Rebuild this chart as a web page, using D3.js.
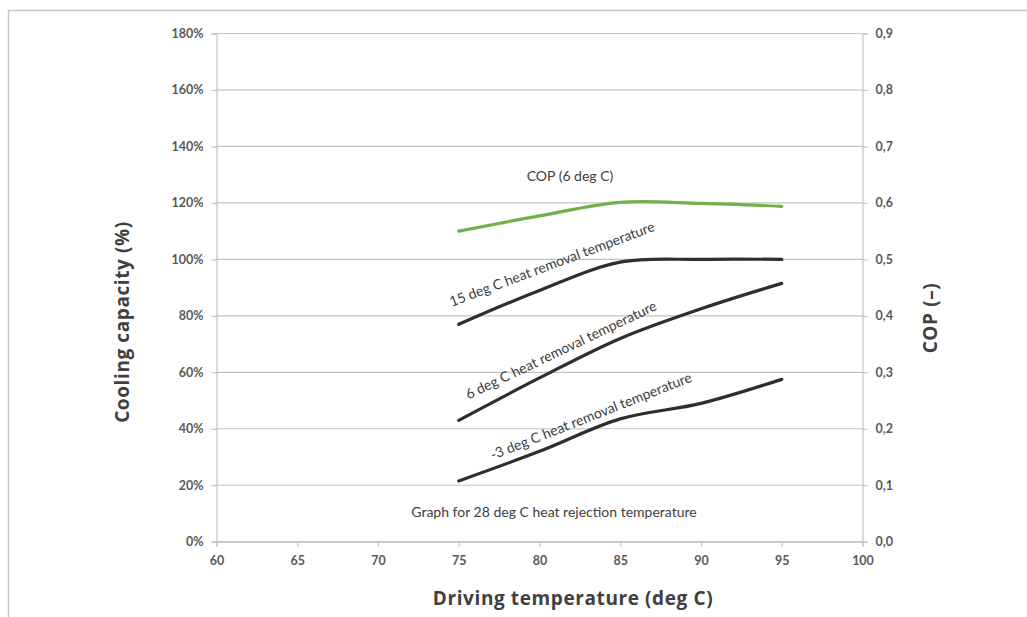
<!DOCTYPE html>
<html>
<head>
<meta charset="utf-8">
<script src="https://cdn.jsdelivr.net/npm/d3@7"></script>
<style>
  html, body { margin: 0; padding: 0; background: #ffffff; }
  svg { display: block; }
</style>
</head>
<body>
<svg id="chart" width="1027" height="617"></svg>
<script>
// ---- data ----
const drivingTemps = [75, 80, 85, 90, 95];
const cap15 = [77, 89, 99, 100, 100];
const cap6 = [43, 58, 72, 82.5, 91.5];
const capMinus3 = [21.5, 32, 43.5, 49, 57.5];
const cop6 = [0.55, 0.577, 0.601, 0.599, 0.594];
const xTicks = [60, 65, 70, 75, 80, 85, 90, 95, 100];
const yLeftTicks = [0, 20, 40, 60, 80, 100, 120, 140, 160, 180];
const yRightTicks = [0, 0.1, 0.2, 0.3, 0.4, 0.5, 0.6, 0.7, 0.8, 0.9];
const seriesLabels = [
  "15 deg C heat removal temperature",
  "6 deg C heat removal temperature",
  "-3 deg C heat removal temperature"
];
const copLabel = "COP (6 deg C)";
const noteLabel = "Graph for 28 deg C heat rejection temperature";

// ---- layout ----
const svg = d3.select("#chart");
const L = 216.5, R = 862.5, T = 33.5, B = 541.7;
const x = d3.scaleLinear().domain([60, 100]).range([L, R]);
const yL = d3.scaleLinear().domain([0, 180]).range([B, T]);
const yR = d3.scaleLinear().domain([0, 0.9]).range([B, T]);

const gridColor = "#c4c4c4";
const tickText = "#595959";
const calibri = "Lato, 'Liberation Sans', sans-serif";
const segoe = "'Open Sans', 'Noto Sans', sans-serif";

// outer frame
svg.append("path")
  .attr("d", `M8.5,617 L8.5,10.5 L1027,10.5`)
  .attr("fill", "none").attr("stroke", "#c6c6c6").attr("stroke-width", 1.5);

// gridlines
svg.append("g").selectAll("line").data(yLeftTicks).join("line")
  .attr("x1", L).attr("x2", R)
  .attr("y1", d => yL(d)).attr("y2", d => yL(d))
  .attr("stroke", gridColor).attr("stroke-width", 1.2);

// left axis
const axL = d3.axisLeft(yL).tickValues(yLeftTicks).tickFormat(d => d + "%").tickSize(5).tickPadding(8);
const gL = svg.append("g").attr("transform", `translate(${L},0)`).call(axL);
// right axis
const axR = d3.axisRight(yR).tickValues(yRightTicks).tickFormat(d => d3.format(".1f")(d).replace(".", ",")).tickSize(5).tickPadding(8);
const gR = svg.append("g").attr("transform", `translate(${R},0)`).call(axR);
// bottom axis
const axB = d3.axisBottom(x).tickValues(xTicks).tickSize(5).tickPadding(9);
const gB = svg.append("g").attr("transform", `translate(0,${B})`).call(axB);

[gL, gR, gB].forEach(g => {
  g.select(".domain").attr("stroke", gridColor).attr("stroke-width", 1.2);
  g.selectAll(".tick line").attr("stroke", gridColor).attr("stroke-width", 1.2);
  g.selectAll(".tick text")
    .attr("fill", tickText)
    .style("font-family", calibri)
    .style("font-size", "12.5px")
    .style("font-weight", "bold");
});

// lines
const lineL = d3.line().x((d, i) => x(drivingTemps[i])).y(d => yL(d)).curve(d3.curveCatmullRom.alpha(0.5));
const lineR = d3.line().x((d, i) => x(drivingTemps[i])).y(d => yR(d)).curve(d3.curveCatmullRom.alpha(0.5));

[cap15, cap6, capMinus3].forEach(s => {
  svg.append("path").datum(s).attr("d", lineL)
    .attr("fill", "none").attr("stroke", "#2e2e2e").attr("stroke-width", 3.2)
    .attr("stroke-linecap", "round");
});
svg.append("path").datum(cop6).attr("d", lineR)
  .attr("fill", "none").attr("stroke", "#72b04a").attr("stroke-width", 3.2)
  .attr("stroke-linecap", "round");

// in-plot labels
const labelStyle = sel => sel
  .attr("fill", "#404040")
  .style("font-family", calibri)
  .style("font-size", "14px")
  .attr("text-anchor", "middle");

svg.append("text").text(copLabel)
  .attr("x", 570).attr("y", 181).call(labelStyle);

const rotLabels = [
  { t: seriesLabels[0], cx: 552, cy: 264, a: -20.5 },
  { t: seriesLabels[1], cx: 561, cy: 350, a: -25.5 },
  { t: seriesLabels[2], cx: 591, cy: 416, a: -21.5 }
];
rotLabels.forEach(r => {
  svg.append("text").text(r.t)
    .attr("transform", `translate(${r.cx},${r.cy}) rotate(${r.a})`)
    .attr("dy", "0.35em")
    .call(labelStyle);
});

svg.append("text").text(noteLabel)
  .attr("x", 554).attr("y", 517).call(labelStyle);

// axis titles
const titleStyle = sel => sel
  .attr("text-anchor", "middle")
  .attr("fill", "#404040")
  .style("font-family", segoe).style("font-size", "19px").style("font-weight", "bold")
  .style("letter-spacing", "0.6px");

svg.append("text").text("Driving temperature (deg C)")
  .attr("x", 573).attr("y", 605).call(titleStyle);

svg.append("text").text("Cooling capacity (%)")
  .attr("transform", `translate(129,322) rotate(-90)`).call(titleStyle);

svg.append("text").text("COP (–)")
  .attr("transform", `translate(937,318) rotate(-90)`).call(titleStyle);
</script>
</body>
</html>
